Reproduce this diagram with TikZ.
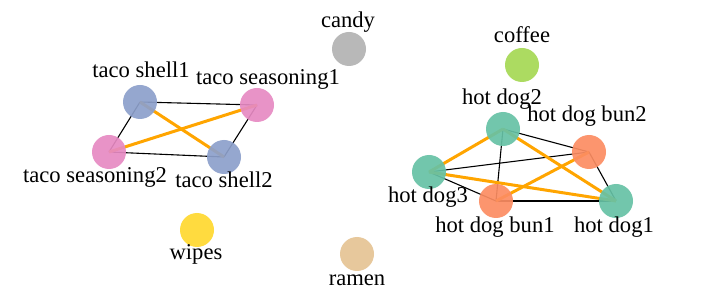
\documentclass[tikz,border=0pt]{standalone}
\usepackage{fontspec}
\setmainfont{Liberation Serif}
\definecolor{cblue}{HTML}{8DA0CB}
\definecolor{cpink}{HTML}{E78AC3}
\definecolor{cgreen}{HTML}{66C2A5}
\definecolor{corange}{HTML}{FC8D62}
\definecolor{cgray}{HTML}{B3B3B3}
\definecolor{clime}{HTML}{A6D854}
\definecolor{cyellow}{HTML}{FFD92F}
\definecolor{ctan}{HTML}{E5C494}
\definecolor{eorange}{HTML}{FFA500}
\tikzset{
  dot/.style={circle,minimum size=34pt,inner sep=0pt,draw=none,fill opacity=0.92},
  lbl/.style={anchor=base,inner sep=0pt,font=\fontsize{22.6}{26}\selectfont},
  thin edge/.style={draw=black,line width=1.1pt},
  thick edge/.style={draw=eorange,line width=3pt},
}
\begin{document}
\begin{tikzpicture}[x=1pt,y=-1pt]
\useasboundingbox (0,0) rectangle (720,304);
\fill[white] (0,0) rectangle (720,304);
% node coordinates
\coordinate (ts1) at (140,102);
\coordinate (tse1) at (257,105);
\coordinate (tse2) at (109,152);
\coordinate (ts2) at (224,157);
\coordinate (cd) at (349,49);
\coordinate (cf) at (522,65);
\coordinate (wp) at (197,230);
\coordinate (rm) at (357,254);
\coordinate (hd2) at (503,129);
\coordinate (hb2) at (589,152);
\coordinate (hd3) at (429,172);
\coordinate (hb1) at (496,201);
\coordinate (hd1) at (616,201);
% edges
\draw[thin edge] (ts1) -- (tse1);
\draw[thin edge] (ts1) -- (tse2);
\draw[thin edge] (tse1) -- (ts2);
\draw[thin edge] (tse2) -- (ts2);
\draw[thick edge] (ts1) -- (ts2);
\draw[thick edge] (tse1) -- (tse2);
\draw[thin edge] (hd2) -- (hb2);
\draw[thin edge] (hd2) -- (hb1);
\draw[thin edge] (hb2) -- (hd3);
\draw[thin edge] (hb2) -- (hd1);
\draw[thin edge] (hd3) -- (hb1);
\draw[thin edge] (hb1) -- (hd1);
\draw[thick edge] (hd2) -- (hd3);
\draw[thick edge] (hd2) -- (hd1);
\draw[thick edge] (hb2) -- (hb1);
\draw[thick edge] (hd3) -- (hd1);
% nodes
\node[dot,fill=cblue] (n-ts1) at (ts1) {};
\node[dot,fill=cpink] (n-tse1) at (tse1) {};
\node[dot,fill=cpink] (n-tse2) at (tse2) {};
\node[dot,fill=cblue] (n-ts2) at (ts2) {};
\node[dot,fill=cgray] (n-cd) at (cd) {};
\node[dot,fill=clime] (n-cf) at (cf) {};
\node[dot,fill=cyellow] (n-wp) at (wp) {};
\node[dot,fill=ctan] (n-rm) at (rm) {};
\node[dot,fill=cgreen] (n-hd2) at (hd2) {};
\node[dot,fill=corange] (n-hb2) at (hb2) {};
\node[dot,fill=cgreen] (n-hd3) at (hd3) {};
\node[dot,fill=corange] (n-hb1) at (hb1) {};
\node[dot,fill=cgreen] (n-hd1) at (hd1) {};
% labels
\node[lbl] (l-cd) at (348,28) {candy};
\node[lbl] (l-cf) at (522,43) {coffee};
\node[lbl] (l-ts1) at (141,78) {taco shell1};
\node[lbl] (l-tse1) at (268,85) {taco seasoning1};
\node[lbl] (l-tse2) at (95,183) {taco seasoning2};
\node[lbl] (l-ts2) at (224,188) {taco shell2};
\node[lbl] (l-wp) at (196,260) {wipes};
\node[lbl] (l-rm) at (357,286) {ramen};
\node[lbl] (l-hd2) at (502,105) {hot dog2};
\node[lbl] (l-hb2) at (587,122) {hot dog bun2};
\node[lbl] (l-hd3) at (428,203) {hot dog3};
\node[lbl] (l-hb1) at (495,233) {hot dog bun1};
\node[lbl] (l-hd1) at (614,233) {hot dog1};
\end{tikzpicture}
\end{document}
